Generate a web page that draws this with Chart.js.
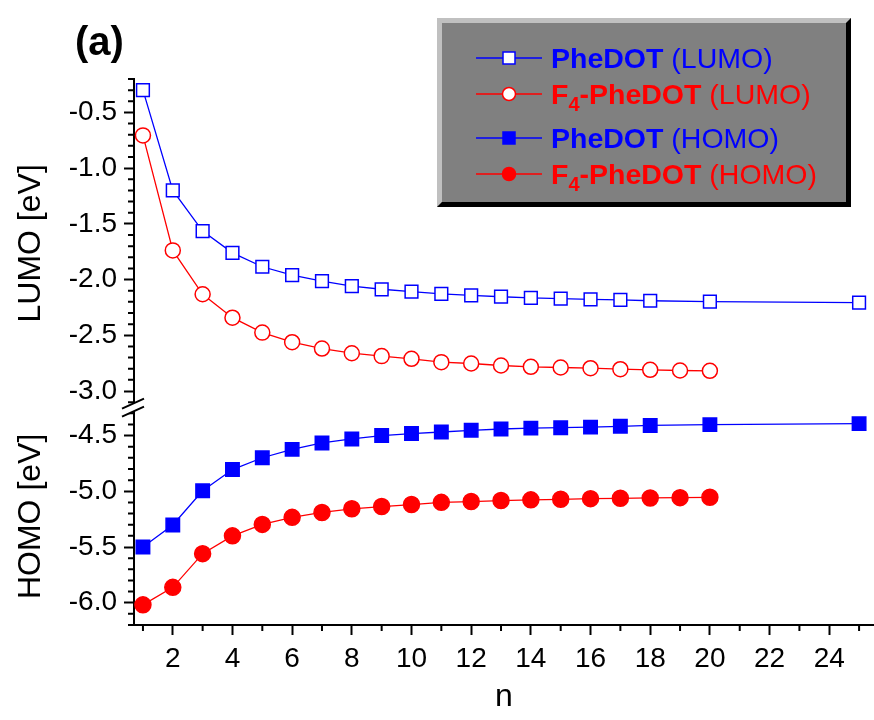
<!DOCTYPE html>
<html lang="en">
<head>
    <meta charset="UTF-8">
    <title>PheDOT / F4-PheDOT frontier orbitals</title>
    <script src="https://cdn.jsdelivr.net/npm/chart.js"></script>
    <style>
        body { margin: 0; background: #ffffff; }
        #wrap { width: 874px; height: 720px; }
    </style>
</head>
<body>
<div id="wrap"><canvas id="orbitalChart" width="874" height="720"></canvas></div>
<script>
    // chain length n
    const nPheDOT = [1, 2, 3, 4, 5, 6, 7, 8, 9, 10, 11, 12, 13, 14, 15, 16, 17, 18, 20, 25];
    const nF4 = [1, 2, 3, 4, 5, 6, 7, 8, 9, 10, 11, 12, 13, 14, 15, 16, 17, 18, 19, 20];

    // orbital energies [eV]
    const lumoPheDOT = [-0.30, -1.20, -1.565, -1.76, -1.885, -1.96, -2.013, -2.058, -2.087, -2.109,
                        -2.129, -2.141, -2.154, -2.165, -2.171, -2.177, -2.183, -2.19, -2.198, -2.207];
    const lumoF4 = [-0.706, -1.738, -2.132, -2.342, -2.476, -2.562, -2.619, -2.661, -2.687, -2.711,
                    -2.741, -2.753, -2.771, -2.783, -2.789, -2.795, -2.804, -2.81, -2.816, -2.819];
    const homoPheDOT = [-5.50, -5.303, -4.995, -4.805, -4.699, -4.624, -4.566, -4.53, -4.50, -4.482,
                        -4.468, -4.453, -4.441, -4.433, -4.429, -4.424, -4.417, -4.409, -4.402, -4.393];
    const homoF4 = [-6.019, -5.862, -5.56, -5.40, -5.297, -5.234, -5.19, -5.157, -5.137, -5.119,
                    -5.099, -5.092, -5.083, -5.077, -5.072, -5.066, -5.063, -5.06, -5.057, -5.054];

    // axis ticks
    const lumoTicks = [-0.5, -1.0, -1.5, -2.0, -2.5, -3.0];
    const homoTicks = [-4.5, -5.0, -5.5, -6.0];
    const nTicks = [2, 4, 6, 8, 10, 12, 14, 16, 18, 20, 22, 24];

    const FONT = "'Liberation Sans', Arial, sans-serif";
    const BLUE = '#0000ff';
    const RED = '#ff0000';

    const toXY = (xs, ys) => xs.map((x, i) => ({ x: x, y: ys[i] }));

    // minor ticks, axis break and the framed legend
    const decorations = {
        id: 'decorations',
        afterDraw(chart) {
            const ctx = chart.ctx;
            const sx = chart.scales.x, yL = chart.scales.yL, yH = chart.scales.yH;
            ctx.save();
            ctx.strokeStyle = '#000';
            ctx.lineWidth = 2;
            ctx.beginPath();
            for (let k = 1; k <= 25; k += 2) {
                const px = sx.getPixelForValue(k);
                ctx.moveTo(px, sx.top); ctx.lineTo(px, sx.top + 6);
            }
            for (let k = -31; k <= -2; k++) {
                if (k % 5 === 0) continue;
                const py = yL.getPixelForValue(k / 10);
                ctx.moveTo(yL.right, py); ctx.lineTo(yL.right - 6, py);
            }
            for (let k = -62; k <= -43; k++) {
                if (k % 5 === 0) continue;
                const py = yH.getPixelForValue(k / 10);
                ctx.moveTo(yH.right, py); ctx.lineTo(yH.right - 6, py);
            }
            ctx.stroke();

            // axis break
            const b = yL.bottom, ax = yL.right;
            ctx.fillStyle = '#fff';
            ctx.beginPath();
            ctx.moveTo(ax - 12, b + 1); ctx.lineTo(ax + 10, b - 9);
            ctx.lineTo(ax + 10, b - 1); ctx.lineTo(ax - 12, b + 9);
            ctx.closePath();
            ctx.fill();
            ctx.beginPath();
            ctx.moveTo(ax - 12, b + 1); ctx.lineTo(ax + 10, b - 9);
            ctx.moveTo(ax - 12, b + 9); ctx.lineTo(ax + 10, b - 1);
            ctx.stroke();

            // panel label
            ctx.fillStyle = '#000';
            ctx.font = 'bold 40px ' + FONT;
            ctx.textBaseline = 'alphabetic';
            ctx.fillText('(a)', 75, 55);

            // legend frame
            const x0 = 437, y0 = 18, x1 = 851, y1 = 207, bw = 5;
            ctx.fillStyle = '#808080';
            ctx.fillRect(x0, y0, x1 - x0, y1 - y0);
            ctx.fillStyle = '#c0c0c0';
            ctx.beginPath();
            ctx.moveTo(x0, y0); ctx.lineTo(x1, y0); ctx.lineTo(x1 - bw, y0 + bw);
            ctx.lineTo(x0 + bw, y0 + bw); ctx.lineTo(x0 + bw, y1 - bw); ctx.lineTo(x0, y1);
            ctx.closePath(); ctx.fill();
            ctx.fillStyle = '#000';
            ctx.beginPath();
            ctx.moveTo(x1, y0); ctx.lineTo(x1, y1); ctx.lineTo(x0, y1);
            ctx.lineTo(x0 + bw, y1 - bw); ctx.lineTo(x1 - bw, y1 - bw); ctx.lineTo(x1 - bw, y0 + bw);
            ctx.closePath(); ctx.fill();

            const rows = [
                { y: 58, ds: 0, parts: [['PheDOT', 1], [' (LUMO)', 0]] },
                { y: 94, ds: 1, parts: [['F', 1], ['4', 2], ['-PheDOT', 1], [' (LUMO)', 0]] },
                { y: 138, ds: 2, parts: [['PheDOT', 1], [' (HOMO)', 0]] },
                { y: 174, ds: 3, parts: [['F', 1], ['4', 2], ['-PheDOT', 1], [' (HOMO)', 0]] }
            ];
            rows.forEach(r => {
                const d = chart.data.datasets[r.ds];
                ctx.strokeStyle = d.borderColor;
                ctx.lineWidth = 1.3;
                ctx.beginPath();
                ctx.moveTo(476, r.y); ctx.lineTo(542, r.y);
                ctx.stroke();
                ctx.fillStyle = d.pointBackgroundColor;
                ctx.strokeStyle = d.pointBorderColor;
                ctx.lineWidth = 1.5;
                ctx.beginPath();
                if (d.pointStyle === 'rect') ctx.rect(503, r.y - 6, 12, 12);
                else ctx.arc(509, r.y, 6.5, 0, Math.PI * 2);
                ctx.fill(); ctx.stroke();

                let tx = 551;
                ctx.fillStyle = d.borderColor;
                r.parts.forEach(([t, kind]) => {
                    if (kind === 2) {
                        ctx.font = 'bold 20px ' + FONT;
                        ctx.fillText(t, tx, r.y + 17);
                    } else {
                        ctx.font = (kind ? 'bold ' : '') + '28.5px ' + FONT;
                        ctx.fillText(t, tx, r.y + 10);
                    }
                    tx += ctx.measureText(t).width;
                });
            });
            ctx.restore();
        }
    };

    const axisGrid = {
        drawOnChartArea: false,
        drawTicks: true,
        tickLength: 10,
        tickWidth: 2,
        tickColor: '#000'
    };
    const axisBorder = { display: true, color: '#000', width: 2 };
    const tickFont = { family: FONT, size: 28 };
    const titleFont = { family: FONT, size: 32 };

    new Chart(document.getElementById('orbitalChart'), {
        type: 'line',
        data: {
            datasets: [
                { label: 'PheDOT (LUMO)', data: toXY(nPheDOT, lumoPheDOT), yAxisID: 'yL',
                  borderColor: BLUE, pointStyle: 'rect', pointRadius: 9,
                  pointBackgroundColor: '#fff', pointBorderColor: BLUE },
                { label: 'F4-PheDOT (LUMO)', data: toXY(nF4, lumoF4), yAxisID: 'yL',
                  borderColor: RED, pointStyle: 'circle', pointRadius: 7.5,
                  pointBackgroundColor: '#fff', pointBorderColor: RED },
                { label: 'PheDOT (HOMO)', data: toXY(nPheDOT, homoPheDOT), yAxisID: 'yH',
                  borderColor: BLUE, pointStyle: 'rect', pointRadius: 9.5,
                  pointBackgroundColor: BLUE, pointBorderColor: BLUE },
                { label: 'F4-PheDOT (HOMO)', data: toXY(nF4, homoF4), yAxisID: 'yH',
                  borderColor: RED, pointStyle: 'circle', pointRadius: 8,
                  pointBackgroundColor: RED, pointBorderColor: RED }
            ]
        },
        options: {
            responsive: false,
            animation: false,
            layout: { autoPadding: false, padding: { top: 79, left: 0, right: 0, bottom: 0 } },
            elements: {
                line: { borderWidth: 1.3, tension: 0, fill: false },
                point: { borderWidth: 1.5, hoverRadius: 9 }
            },
            plugins: { legend: { display: false }, tooltip: { enabled: false } },
            scales: {
                x: {
                    type: 'linear', position: 'bottom', min: 0.7, max: 25.5,
                    afterFit: s => { s.height = 95; },
                    afterBuildTicks: s => { s.ticks = nTicks.map(v => ({ value: v })); },
                    grid: axisGrid, border: axisBorder,
                    ticks: { color: '#000', padding: 7, font: tickFont, maxRotation: 0 },
                    title: { display: true, text: 'n', color: '#000', padding: { top: 5 }, font: titleFont }
                },
                // left boxes are laid out bottom-up, so the HOMO part comes first
                yH: {
                    type: 'linear', position: 'left', stack: 'energy', stackWeight: 1.95,
                    min: -6.2, max: -4.25,
                    afterFit: s => { s.width = 134; },
                    afterBuildTicks: s => { s.ticks = homoTicks.map(v => ({ value: v })); },
                    grid: axisGrid, border: axisBorder,
                    ticks: { color: '#000', padding: 7, font: tickFont, callback: v => v.toFixed(1) },
                    title: { display: true, text: 'HOMO [eV]', color: '#000', padding: { top: 12 }, font: titleFont }
                },
                yL: {
                    type: 'linear', position: 'left', stack: 'energy', stackWeight: 2.95,
                    min: -3.15, max: -0.2,
                    afterFit: s => { s.width = 134; },
                    afterBuildTicks: s => { s.ticks = lumoTicks.map(v => ({ value: v })); },
                    grid: axisGrid, border: axisBorder,
                    ticks: { color: '#000', padding: 7, font: tickFont, callback: v => v.toFixed(1) },
                    title: { display: true, text: 'LUMO [eV]', color: '#000', padding: { top: 12 }, font: titleFont }
                }
            }
        },
        plugins: [decorations]
    });
</script>
</body>
</html>
